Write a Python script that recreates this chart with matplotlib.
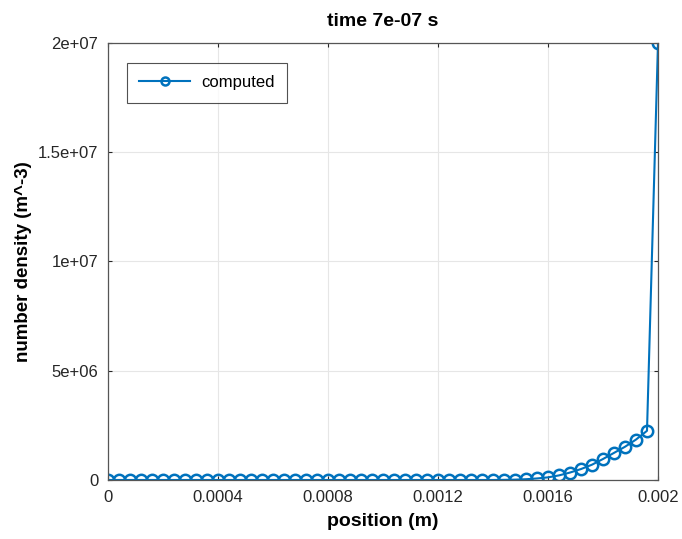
import numpy as np
import matplotlib.pyplot as plt

plt.rcParams['font.family'] = ['Liberation Sans', 'DejaVu Sans']

# Sample data
position = np.linspace(0, 0.002, 51)
tail = [0.006e6, 0.015e6, 0.035e6, 0.07e6, 0.12e6, 0.21e6, 0.34e6, 0.50e6,
        0.70e6, 0.96e6, 1.24e6, 1.52e6, 1.85e6, 2.25e6, 2.0e7]
density = [0.0] * (51 - len(tail)) + tail

xticks = [0, 0.0004, 0.0008, 0.0012, 0.0016, 0.002]
xticklabels = ['0', '0.0004', '0.0008', '0.0012', '0.0016', '0.002']
yticks = [0, 5e6, 1e7, 1.5e7, 2e7]
yticklabels = ['0', '5e+06', '1e+07', '1.5e+07', '2e+07']

fig = plt.figure(figsize=(6.82, 5.39), dpi=100)
ax = fig.add_axes([0.1584, 0.1095, 0.8064, 0.8108])

line, = ax.plot(position, density, color='#0072BD', linewidth=1.5,
                marker='o', markersize=8.2, markerfacecolor='none',
                markeredgewidth=1.8, label='computed')

ax.set_xlim(0, 0.002)
ax.set_ylim(0, 2e7)
ax.set_xticks(xticks)
ax.set_xticklabels(xticklabels)
ax.set_yticks(yticks)
ax.set_yticklabels(yticklabels)
ax.tick_params(direction='in', labelsize=12, colors='#262626', length=3,
               top=True, right=True, pad=7)
ax.grid(True, color='#e6e6e6', linewidth=0.8)
ax.set_axisbelow(True)
for side in ax.spines.values():
    side.set_color('#555555')
    side.set_linewidth(0.9)

ax.set_xlabel('position (m)', fontsize=14, fontweight='bold', labelpad=6)
ax.set_ylabel('number density (m^-3)', fontsize=13.5, fontweight='bold',
              labelpad=4)
ax.set_title('time 7e-07 s', fontsize=14, fontweight='bold', pad=12)

leg = ax.legend(loc='upper left', fontsize=12, fancybox=False,
                edgecolor='#262626', bbox_to_anchor=(0.034, 0.955),
                borderaxespad=0, borderpad=0.75, handlelength=3.06,
                handletextpad=0.66, markerscale=0.7)
leg.get_frame().set_linewidth(0.8)

fig.savefig('out.png', dpi=100)
